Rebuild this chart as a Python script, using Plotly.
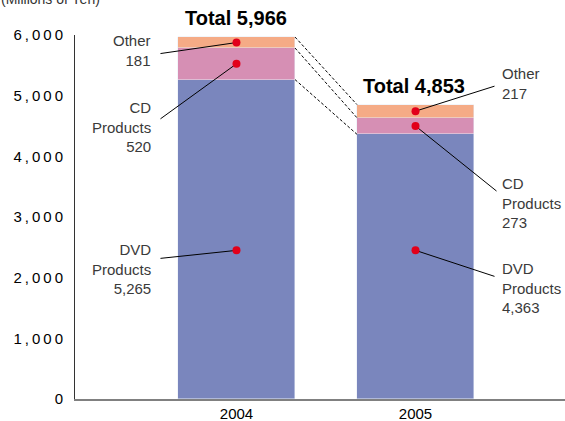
import plotly.graph_objects as go

# ---- data ----
years = ["2004", "2005"]
dvd = [5265, 4363]
cd = [520, 273]
other = [181, 217]
totals = [5966, 4853]
y_ticks = [0, 1000, 2000, 3000, 4000, 5000, 6000]
y_tick_labels = ["0", "1,000", "2,000", "3,000", "4,000", "5,000", "6,000"]

# ---- style ----
C_DVD = "#7a86bd"
C_CD = "#d68fb4"
C_OTHER = "#f5ab86"
C_DOT = "#e2001a"
FONT = "Liberation Sans, Arial, sans-serif"

W, H = 565, 421
M_L, M_R, M_T, M_B = 75, 0, 35, 22
YMAX = 6000
X_RANGE = [-0.902, 1.835]
BAR_W = 0.654
plot_w = W - M_L - M_R
plot_h = H - M_T - M_B
px_per_x = plot_w / (X_RANGE[1] - X_RANGE[0])
px_per_y = plot_h / YMAX

xs = list(range(len(years)))


def spaced(s):
    return "\u2009".join(list(s))


fig = go.Figure()
fig.add_bar(x=xs, y=dvd, marker_color=C_DVD, width=BAR_W, name="DVD Products")
fig.add_bar(x=xs, y=cd, marker_color=C_CD, width=BAR_W, name="CD Products")
fig.add_bar(x=xs, y=other, marker_color=C_OTHER, width=BAR_W, name="Other")

# dashed connectors between segment boundaries
bounds = [[d + c + o, d + c, d] for d, c, o in zip(dvd, cd, other)]
for k in range(3):
    fig.add_scatter(
        x=[xs[0] + BAR_W / 2, xs[1] - BAR_W / 2],
        y=[bounds[0][k], bounds[1][k]],
        mode="lines",
        line=dict(color="black", width=1, dash="3px,2px"),
        hoverinfo="skip",
    )

# dot positions (segment midpoints; DVD dot placed at a fixed height)
DVD_DOT_Y = 2450
label_cfg = {
    # (series, year idx): (label xshift, label yshift(down +), leader dx, leader dy)
    ("other", 0): (-83.5, 8, -76, 11),
    ("cd", 0): (-83.5, 63, -76, 55),
    ("dvd", 0): (-83.5, 19, -76, 8),
    ("other", 1): (84.5, -28, 79, -25),
    ("cd", 1): (84.5, 77, 81, 65),
    ("dvd", 1): (84.5, 38, 79, 26),
}
names = {"other": "Other", "cd": "CD<br>Products", "dvd": "DVD<br>Products"}
vals = {"other": other, "cd": cd, "dvd": dvd}

for i in xs:
    ys = {
        "dvd": DVD_DOT_Y,
        "cd": dvd[i] + cd[i] / 2,
        "other": dvd[i] + cd[i] + other[i] / 2,
    }
    for key in ["other", "cd", "dvd"]:
        lx, ly, dx, dy = label_cfg[(key, i)]
        y0 = ys[key]
        fig.add_scatter(
            x=[i, i + dx / px_per_x],
            y=[y0, y0 - dy / px_per_y],
            mode="lines",
            line=dict(color="black", width=1),
            hoverinfo="skip",
        )
        fig.add_scatter(
            x=[i], y=[y0], mode="markers",
            marker=dict(color=C_DOT, size=8, line=dict(width=0)),
            hoverinfo="skip",
        )
        fig.add_annotation(
            x=i, y=y0, xref="x", yref="y",
            text=f"{names[key]}<br>{vals[key][i]:,}",
            showarrow=False,
            xanchor="right" if i == 0 else "left",
            yanchor="middle",
            align="right" if i == 0 else "left",
            xshift=lx, yshift=-ly,
            font=dict(family=FONT, size=15, color="#3a3a3a"),
        )

# totals
for i in xs:
    fig.add_annotation(
        x=i, y=totals[i], xref="x", yref="y",
        text=f"<b>Total {totals[i]:,}</b>",
        showarrow=False, xanchor="center", yanchor="middle",
        yshift=19, xshift=0 if i == 0 else -2,
        font=dict(family=FONT, size=20, color="black"),
    )

# unit label
fig.add_annotation(
    x=0, y=1, xref="paper", yref="paper",
    text="(Millions of Yen)", showarrow=False,
    xanchor="left", yanchor="middle", xshift=-76, yshift=36,
    font=dict(family=FONT, size=14, color="#333333"),
)

fig.update_layout(
    width=W, height=H,
    margin=dict(l=M_L, r=M_R, t=M_T, b=M_B, pad=0, autoexpand=False),
    barmode="stack",
    showlegend=False,
    plot_bgcolor="white",
    paper_bgcolor="white",
    bargap=0,
)
fig.update_xaxes(
    range=X_RANGE, tickvals=xs, ticktext=years,
    showline=True, linecolor="#808080", linewidth=1.5,
    showgrid=False, zeroline=False, ticks="",
    ticklabelstandoff=0, automargin=False,
    tickfont=dict(family=FONT, size=15, color="black"),
)
fig.update_yaxes(
    range=[0, YMAX], tickvals=y_ticks,
    ticktext=[spaced(t) for t in y_tick_labels],
    showline=True, linecolor="#333333", linewidth=1,
    showgrid=False, zeroline=False, ticks="",
    ticklabelstandoff=8, automargin=False,
    tickfont=dict(family=FONT, size=15, color="black"),
)

fig.write_html("out.html")
